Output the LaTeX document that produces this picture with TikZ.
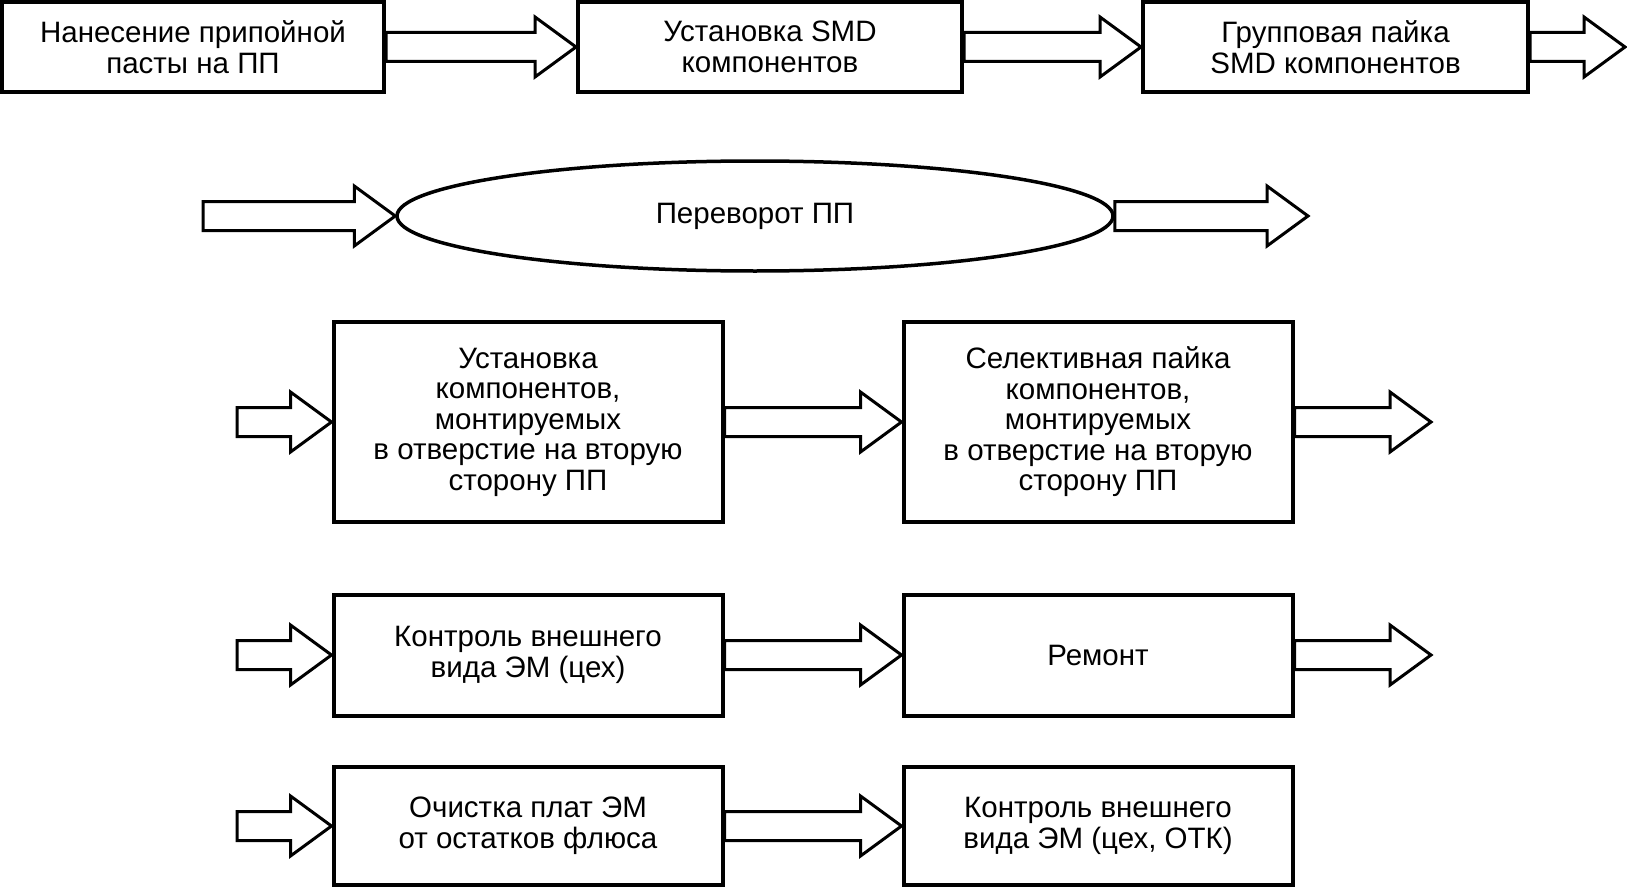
\documentclass[tikz,border=0pt]{standalone}
\usepackage{fontspec}
\setmainfont{Liberation Sans}
\usetikzlibrary{shapes.geometric,calc}

\begin{document}
\begin{tikzpicture}[x=1pt, y=-1pt,
        every node/.style={font=\fontsize{29.5}{30.5}\selectfont, align=center, inner sep=0pt},
        box/.style={draw=black, line width=4pt, minimum width=389pt},
        oval/.style={ellipse, draw=black, line width=3.5pt, minimum width=716pt, minimum height=110pt},
        fat/.style={every edge/.style={fill=white, draw=black, line width=3pt, line join=miter},
            to path={let \p1=(\tikztostart), \p2=(\tikztotarget) in
                (\x1,\y1+14.5pt) -- (\x2-41pt,\y1+14.5pt) -- (\x2-41pt,\y1+30pt) -- (\x2,\y1)
                -- (\x2-41pt,\y1-30pt) -- (\x2-41pt,\y1-14.5pt) -- (\x1,\y1-14.5pt) -- cycle}}]
        \useasboundingbox (0,0) rectangle (1627,888);

        % first side
        \node[box, minimum width=382pt, minimum height=90pt] (nan) at (193,47) {Нанесение припойной\\пасты на ПП};
        \node[box, minimum width=384pt, minimum height=90pt] (ust) at (770,47) {Установка SMD\\компонентов};
        \node[box, minimum width=385pt, minimum height=90pt] (grp) at (1335.5,47) {Групповая пайка\\SMD компонентов};
        \coordinate (o1) at (1625,47);

        \node[oval] (per) at (755,216) {Переворот ПП};
        \coordinate (i2) at (203,216);
        \coordinate (o2) at (1308,216);

        % second side
        \node[box, minimum height=200pt] (ustv) at (528,422) {Установка\\компонентов,\\монтируемых\\в отверстие на вторую\\сторону ПП};
        \node[box, minimum height=200pt] (sel) at (1098,422) {Селективная пайка\\компонентов,\\монтируемых\\в отверстие на вторую\\сторону ПП};
        \coordinate (i3) at (237,422);
        \coordinate (o3) at (1431,422);

        \node[box, minimum height=121pt] (kon) at (528,655) {Контроль внешнего\\вида ЭМ (цех)};
        \node[box, minimum height=121pt] (rem) at (1098,655) {Ремонт};
        \coordinate (i4) at (237,655);
        \coordinate (o4) at (1431,655);

        \node[box, minimum height=118pt] (och) at (528,826) {Очистка плат ЭМ\\от остатков флюса};
        \node[box, minimum height=118pt] (otk) at (1098,826) {Контроль внешнего\\вида ЭМ (цех, ОТК)};
        \coordinate (i5) at (237,826);

        \path[fat]
            (nan.east) edge (ust.west)
            (ust.east) edge (grp.west)
            (grp.east) edge (o1)
            (i2) edge (per.west)
            (per.east) edge (o2)
            (i3) edge (ustv.west)
            (ustv.east) edge (sel.west)
            (sel.east) edge (o3)
            (i4) edge (kon.west)
            (kon.east) edge (rem.west)
            (rem.east) edge (o4)
            (i5) edge (och.west)
            (och.east) edge (otk.west);
\end{tikzpicture}
\end{document}
